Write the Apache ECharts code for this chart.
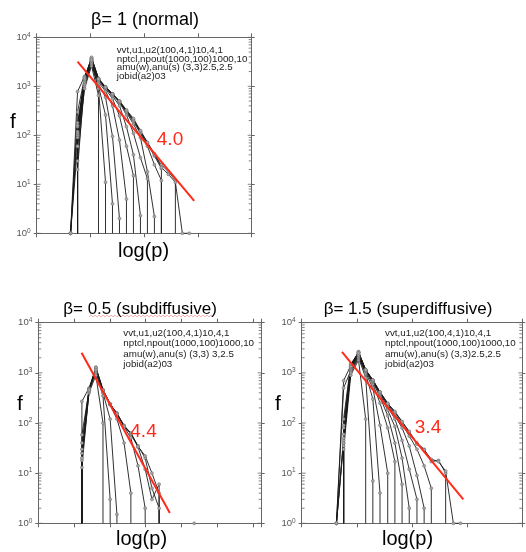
<!DOCTYPE html>
<html><head><meta charset="utf-8">
<script src="https://cdn.jsdelivr.net/npm/echarts@6/dist/echarts.min.js"></script>
<style>html,body{margin:0;padding:0;background:#fff}#c{width:526px;height:552px}</style>
</head><body><div id="c"></div>
<script>
// ---------------- DATA ----------------
// y: f (count), log axis 1..1e4 ; x: log(p) bins (unlabelled axis)
const Y_MIN = 1, Y_MAX = 10000;

// Panel 1: beta = 1 (normal)
const P1_LOGP = [0.63, 0.76, 0.89, 1.02, 1.15, 1.28, 1.41, 1.54, 1.67, 1.80, 1.93, 2.06, 2.19, 2.32, 2.45, 2.58, 2.71, 2.84];
const P1_CURVES = [
  [0, 60, 900, 2600, 650],
  [0, 30, 1000, 2900, 900, 11],
  [0, 100, 1100, 3000, 1000, 260, 4],
  [0, 150, 1200, 3200, 1100, 600, 95, 2],
  [1, 180, 1300, 3300, 1200, 800, 400, 80, 5],
  [0, 110, 1250, 3400, 1300, 880, 560, 250, 60, 15],
  [1, 60, 1350, 3500, 1350, 920, 640, 400, 150, 40, 2.3],
  [0, 20, 1400, 3600, 1400, 950, 680, 470, 260, 110, 35, 13],
  [1, 780, 1600, 3300, 1380, 940, 690, 490, 290, 170, 90, 18, 2.2],
  [0, 160, 1500, 3700, 1420, 960, 700, 490, 300, 190, 110, 60, 25, 12],
  [1, 120, 1450, 3800, 1400, 950, 690, 480, 310, 200, 115, 66, 38, 21],
  [0, 90, 1400, 3900, 1450, 980, 700, 500, 320, 210, 120, 70, 40, 25, 18, 12],
  [1, 300, 1500, 3500, 1400, 960, 700, 500, 330, 220, 125, 72, 42, 22, 16, 11, 1, 1]
];
const P1_FIT = [[0.76, 3200], [2.93, 4.6]];
const P1_SLOPE = '4.0';

// Panel 2: beta = 0.5 (subdiffusive)
const P2_LOGP = [1.22, 1.42, 1.61, 1.81, 2.01, 2.20, 2.40, 2.59, 2.79, 2.99, 3.18, 3.38, 3.57, 3.77, 3.96, 4.16, 4.36];
const P2_CURVES = [
  [18, 400, 900, 100],
  [13, 450, 1000, 350, 3],
  [58, 450, 1100, 400, 120, 1.5],
  [270, 500, 1200, 440, 230, 120, 40, 4],
  [30, 480, 1250, 450, 240, 150, 85, 50, 14, 2],
  [20, 430, 1300, 460, 240, 158, 89, 63, 35, 20, 5, 2],
  [40, 470, 1150, 440, 235, 155, 88, 60, 33, 12, 3, 6, 0, 0, 0, 0, 1],
  [25, 460, 1280, 455, 238, 150, 85, 62, 34, 22, 10, 4]
];
const P2_FIT = [[1.21, 2520], [3.68, 1.6]];
const P2_SLOPE = '4.4';

// Panel 3: beta = 1.5 (superdiffusive)
const P3_LOGP = [0.63, 0.76, 0.89, 1.03, 1.16, 1.29, 1.42, 1.56, 1.69, 1.82, 1.95, 2.09, 2.22, 2.35, 2.48, 2.61, 2.75, 2.88];
const P3_CURVES = [
  [0, 30, 900, 1800, 120],
  [0, 80, 1000, 2000, 800, 7],
  [1, 500, 1100, 2100, 950, 300, 4],
  [1, 40, 1150, 2200, 1000, 500, 90, 10],
  [0, 60, 1200, 2300, 1050, 600, 250, 80, 17],
  [1, 45, 1250, 2400, 1100, 650, 330, 140, 40, 6],
  [0, 35, 1300, 2500, 1120, 680, 370, 180, 85, 20, 2],
  [1, 50, 1350, 2550, 1130, 700, 390, 210, 120, 45, 12, 3],
  [1, 700, 1400, 2300, 1100, 690, 400, 230, 140, 80, 35, 9, 2],
  [0, 90, 1450, 2600, 1140, 710, 410, 240, 155, 95, 55, 30, 14, 5],
  [0, 40, 1350, 2650, 1150, 720, 415, 245, 165, 105, 66, 40, 30, 17, 18, 10],
  [0, 120, 1500, 2500, 1150, 724, 417, 245, 170, 107, 68, 38, 29, 19, 17, 11, 1, 1]
];
const P3_FIT = [[0.73, 2630], [2.93, 3.0]];
const P3_SLOPE = '3.4';

const TITLES = ['β= 1 (normal)', 'β= 0.5 (subdiffusive)', 'β= 1.5 (superdiffusive)'];
const NOTE1 = ['vvt,u1,u2(100,4,1)10,4,1', 'nptcl,npout(1000,100)1000,10', 'amu(w),anu(s) (3,3)2.5,2.5', 'jobid(a2)03'];
const NOTE2 = ['vvt,u1,u2(100,4,1)10,4,1', 'nptcl,npout(1000,100)1000,10', 'amu(w),anu(s) (3,3) 3,2.5', 'jobid(a2)03'];
const NOTE3 = ['vvt,u1,u2(100,4,1)10,4,1', 'nptcl,npout(1000,100)1000,10', 'amu(w),anu(s) (3,3)2.5,2.5', 'jobid(a2)03'];
const Y_LABEL = 'f', X_LABEL = 'log(p)';

// ---------------- BUILD ----------------
const FONT = 'Liberation Sans';
const AX = '#666';
const RED = '#ff2a1a';

const PANELS = [
  {grid: {left: 36.7, top: 37.3, width: 215, height: 196}, xmax: 4, xs: P1_LOGP, curves: P1_CURVES, fit: P1_FIT},
  {grid: {left: 38.3, top: 322.7, width: 223.4, height: 200.6}, xmax: 6.25, xs: P2_LOGP, curves: P2_CURVES, fit: P2_FIT},
  {grid: {left: 301.7, top: 322.7, width: 220.6, height: 200.6}, xmax: 4, xs: P3_LOGP, curves: P3_CURVES, fit: P3_FIT}
];

const TICKS = [];
for (let d = 1; d < Y_MAX; d *= 10) for (let m = 1; m < 10; m++) TICKS.push(m * d);
TICKS.push(Y_MAX);

function curveData(xs, fs) {
  const out = [];
  for (let i = 0; i < fs.length; i++) {
    const f = fs[i], prev = i > 0 ? fs[i - 1] : 0;
    if (f > 0) {
      if (prev <= 0) {
        if (out.length) out.push([xs[i], '-']);
        out.push({value: [xs[i], Y_MIN], symbol: 'none'});
      }
      out.push([xs[i], f]);
    } else if (prev > 0) {
      out.push({value: [xs[i - 1], Y_MIN], symbol: 'none'});
    }
  }
  if (fs[fs.length - 1] > 0) out.push({value: [xs[fs.length - 1], Y_MIN], symbol: 'none'});
  return out;
}

const grids = [], xAxes = [], yAxes = [], series = [];
PANELS.forEach((p, g) => {
  grids.push(Object.assign({containLabel: false}, p.grid));
  const xBase = {gridIndex: g, type: 'value', min: 0, max: p.xmax, interval: 1,
    axisLine: {show: true, onZero: false, lineStyle: {color: AX, width: 1}},
    axisTick: {show: true, length: 4, lineStyle: {color: AX, width: 1}},
    axisLabel: {show: false}, splitLine: {show: false}};
  xAxes.push(Object.assign({position: 'bottom'}, xBase));
  xAxes.push(Object.assign({position: 'top'}, xBase));
  const yBase = {gridIndex: g, type: 'log', logBase: 10, min: Y_MIN, max: Y_MAX,
    axisLine: {show: true, onZero: false, lineStyle: {color: AX, width: 1}},
    axisTick: {show: true, length: 3, lineStyle: {color: AX, width: 1}},
    splitLine: {show: false}, minorTick: {show: false}};
  yAxes.push(Object.assign({position: 'left', axisLabel: {
    show: true, margin: 6, color: '#555',
    formatter: v => '{b|10}{s|' + Math.round(Math.log10(v)) + '}',
    rich: {b: {fontSize: 9.5, fontFamily: FONT, color: '#555', lineHeight: 12},
           s: {fontSize: 6.5, fontFamily: FONT, color: '#555', lineHeight: 7, verticalAlign: 'top'}}
  }}, yBase));
  yAxes.push(Object.assign({position: 'right', axisLabel: {show: false}}, yBase));

  // inward y ticks (log minor ticks)
  series.push({type: 'custom', xAxisIndex: 2 * g, yAxisIndex: 2 * g, silent: true, clip: false, z: 4,
    data: TICKS.map(v => [0, v]),
    renderItem: (params, api) => {
      const v = api.value(1);
      const major = Math.abs(Math.log10(v) - Math.round(Math.log10(v))) < 1e-9;
      const len = major ? 4 : 3;
      const pl = api.coord([0, v]), pr = api.coord([p.xmax, v]);
      const st = {stroke: AX, lineWidth: 0.8};
      return {type: 'group', children: [
        {type: 'line', shape: {x1: pl[0], y1: pl[1], x2: pl[0] + len, y2: pl[1]}, style: st},
        {type: 'line', shape: {x1: pr[0], y1: pr[1], x2: pr[0] - len, y2: pr[1]}, style: st}
      ]};
    }});

  p.curves.forEach(c => {
    series.push({type: 'line', xAxisIndex: 2 * g, yAxisIndex: 2 * g, data: curveData(p.xs, c),
      symbol: 'circle', symbolSize: 3, showSymbol: true, connectNulls: false,
      lineStyle: {color: '#1a1a1a', width: 0.9},
      itemStyle: {color: '#a8a8a8', borderColor: '#666', borderWidth: 0.5},
      z: 2, silent: true});
  });
  series.push({type: 'line', xAxisIndex: 2 * g, yAxisIndex: 2 * g, data: p.fit, symbol: 'none',
    lineStyle: {color: RED, width: 2}, z: 6, silent: true});
});

function txt(x, y, text, size, color, align, vAlign, extra) {
  return {type: 'text', x: x, y: y, silent: true, z: 20,
    style: Object.assign({text: text, fontSize: size, fontFamily: FONT, fill: color,
      align: align || 'center', verticalAlign: vAlign || 'middle'}, extra || {})};
}

const zig = [];
for (let x = 89, k = 0; x <= 213; x += 2, k++) zig.push([x, k % 2 ? 315 : 317]);

const graphic = [
  txt(145, 20, TITLES[0], 18, '#000'),
  txt(140, 309, TITLES[1], 17, '#000'),
  txt(408, 309, TITLES[2], 17, '#000'),
  txt(13, 122, Y_LABEL, 21, '#000'),
  txt(20, 404, Y_LABEL, 21, '#000'),
  txt(278, 404, Y_LABEL, 21, '#000'),
  txt(143.5, 251, X_LABEL, 20, '#000'),
  txt(141.5, 539, X_LABEL, 20, '#000'),
  txt(407.5, 539, X_LABEL, 20, '#000'),
  txt(116.7, 45.5, NOTE1.join('\n'), 9.8, '#222', 'left', 'top', {lineHeight: 8.9}),
  txt(123.3, 328, NOTE2.join('\n'), 9.8, '#222', 'left', 'top', {lineHeight: 10.5}),
  txt(385, 328, NOTE3.join('\n'), 9.8, '#222', 'left', 'top', {lineHeight: 10.5}),
  txt(170, 140, P1_SLOPE, 19, RED),
  txt(143.5, 432, P2_SLOPE, 19, RED),
  txt(428, 428, P3_SLOPE, 19, RED),
  {type: 'polyline', silent: true, z: 19, shape: {points: zig}, style: {stroke: '#f09090', lineWidth: 0.7, fill: null}}
];

const chart = echarts.init(document.getElementById('c'), null, {renderer: 'canvas'});
chart.setOption({
  animation: false, backgroundColor: '#fff',
  grid: grids, xAxis: xAxes, yAxis: yAxes, series: series, graphic: graphic
});
</script>
</body></html>
